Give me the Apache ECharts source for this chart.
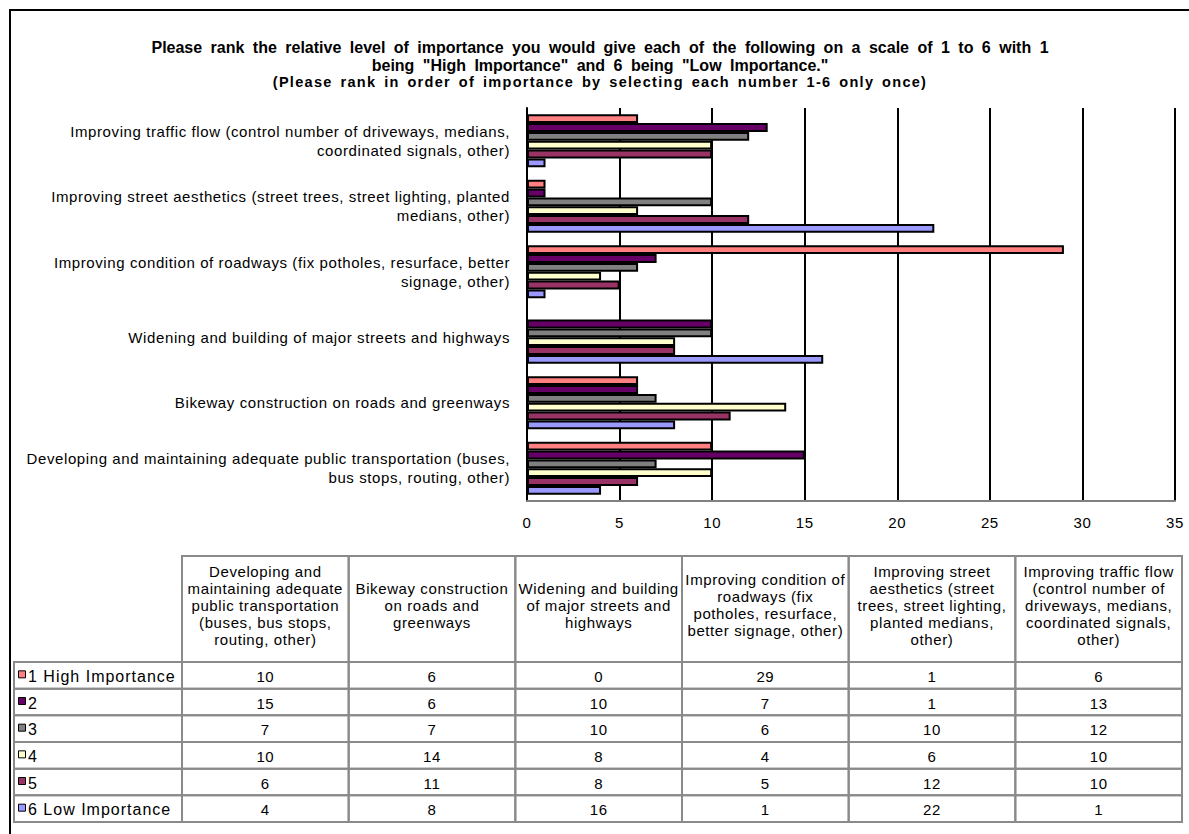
<!DOCTYPE html>
<html>
<head>
<meta charset="utf-8">
<script src="https://cdn.jsdelivr.net/npm/echarts@6/dist/echarts.min.js"></script>
<style>
  html, body { margin: 0; padding: 0; background: #fff; }
  #chart { width: 1189px; height: 834px; }
</style>
</head>
<body>
<div id="chart"></div>
<script>
// Survey categories (bottom-to-top on the chart, left-to-right in the table)
const categories = [
  'Developing and maintaining adequate public transportation (buses, bus stops, routing, other)',
  'Bikeway construction on roads and greenways',
  'Widening and building of major streets and highways',
  'Improving condition of roadways (fix potholes, resurface, better signage, other)',
  'Improving street aesthetics (street trees, street lighting, planted medians, other)',
  'Improving traffic flow (control number of driveways, medians, coordinated signals, other)'
];
// Wrapped versions of the category names
const axisLabels = [
  'Developing and maintaining adequate public transportation (buses,\nbus stops, routing, other)',
  'Bikeway construction on roads and greenways',
  'Widening and building of major streets and highways',
  'Improving condition of roadways (fix potholes, resurface, better\nsignage, other)',
  'Improving street aesthetics (street trees, street lighting, planted\nmedians, other)',
  'Improving traffic flow (control number of driveways, medians,\ncoordinated signals, other)'
];
const headerLabels = [
  'Developing and\nmaintaining adequate\npublic transportation\n(buses, bus stops,\nrouting, other)',
  'Bikeway construction\non roads and\ngreenways',
  'Widening and building\nof major streets and\nhighways',
  'Improving condition of\nroadways (fix\npotholes, resurface,\nbetter signage, other)',
  'Improving street\naesthetics (street\ntrees, street lighting,\nplanted medians,\nother)',
  'Improving traffic flow\n(control number of\ndriveways, medians,\ncoordinated signals,\nother)'
];

// Ranking series
const seriesNames = ['1 High Importance', '2', '3', '4', '5', '6 Low Importance'];
const rank1 = [10, 6, 0, 29, 1, 6];
const rank2 = [15, 6, 10, 7, 1, 13];
const rank3 = [7, 7, 10, 6, 10, 12];
const rank4 = [10, 14, 8, 4, 6, 10];
const rank5 = [6, 11, 8, 5, 12, 10];
const rank6 = [4, 8, 16, 1, 22, 1];
const seriesValues = [rank1, rank2, rank3, rank4, rank5, rank6];
const seriesColors = ['#FF8080', '#660066', '#808080', '#FFFFCC', '#993366', '#9999FF'];

const titleLines = [
  'Please rank the relative level of importance you would give each of the following on a scale of 1 to 6 with 1',
  'being "High Importance" and 6 being "Low Importance."'
];
const subTitle = '(Please rank in order of importance by selecting each number 1-6 only once)';

const FONT = 'Liberation Sans, Arial, sans-serif';

// ---- data table geometry ----
const tbl = {
  labelLeft: 14,
  left: 182,
  right: 1182,
  headTop: 556,
  headBottom: 662,
  rowH: 26.67
};

function buildTable() {
  const els = [];
  const colW = (tbl.right - tbl.left) / categories.length;
  const gridStroke = { stroke: '#8a8a8a', lineWidth: 2, fill: null };
  // header cells
  headerLabels.forEach((txt, c) => {
    const x = tbl.left + c * colW;
    els.push({
      type: 'rect', silent: true,
      shape: { x: x, y: tbl.headTop, width: colW, height: tbl.headBottom - tbl.headTop },
      style: gridStroke
    });
    els.push({
      type: 'text', silent: true,
      x: x + colW / 2, y: (tbl.headTop + tbl.headBottom) / 2 - 4,
      style: {
        text: txt, fill: '#000', font: '15px ' + FONT,
        align: 'center', verticalAlign: 'middle', lineHeight: 17
      }
    });
  });
  // data rows
  seriesNames.forEach((name, r) => {
    const y = tbl.headBottom + r * tbl.rowH;
    els.push({
      type: 'rect', silent: true,
      shape: { x: tbl.labelLeft, y: y, width: tbl.left - tbl.labelLeft, height: tbl.rowH },
      style: gridStroke
    });
    els.push({
      type: 'rect', silent: true,
      shape: { x: tbl.labelLeft + 4.5, y: y + tbl.rowH / 2 - 4.5, width: 7, height: 7 },
      style: { fill: seriesColors[r], stroke: '#000', lineWidth: 1 }
    });
    els.push({
      type: 'text', silent: true,
      x: tbl.labelLeft + 14, y: y + tbl.rowH / 2 + 1,
      style: { text: name, fill: '#000', font: '16px ' + FONT, align: 'left', verticalAlign: 'middle' }
    });
    seriesValues[r].forEach((v, c) => {
      const x = tbl.left + c * colW;
      els.push({
        type: 'rect', silent: true,
        shape: { x: x, y: y, width: colW, height: tbl.rowH },
        style: gridStroke
      });
      els.push({
        type: 'text', silent: true,
        x: x + colW / 2, y: y + tbl.rowH / 2 + 1,
        style: { text: String(v), fill: '#000', font: '15px ' + FONT, align: 'center', verticalAlign: 'middle' }
      });
    });
  });
  return els;
}

const graphics = [
  // chart area frame
  {
    type: 'rect', silent: true, z: -1,
    shape: { x: 10, y: 10, width: 1200, height: 860 },
    style: { fill: null, stroke: '#000', lineWidth: 2 }
  },
  {
    type: 'text', silent: true, x: 600, y: 47,
    style: { text: titleLines[0], fill: '#000', font: 'bold 16px ' + FONT, align: 'center', verticalAlign: 'middle' }
  },
  {
    type: 'text', silent: true, x: 600, y: 65,
    style: { text: titleLines[1], fill: '#000', font: 'bold 16px ' + FONT, align: 'center', verticalAlign: 'middle' }
  },
  {
    type: 'text', silent: true, x: 600, y: 82,
    style: { text: subTitle, fill: '#000', font: 'bold 14.5px ' + FONT, align: 'center', verticalAlign: 'middle' }
  }
].concat(buildTable());

const chart = echarts.init(document.getElementById('chart'), null, { renderer: 'svg' });

// Letter / word spacing per text style
function applyTextSpacing() {
  document.querySelectorAll('#chart svg text').forEach(t => {
    const cs = getComputedStyle(t);
    const size = parseFloat(cs.fontSize);
    const bold = parseInt(cs.fontWeight, 10) >= 600 || cs.fontWeight === 'bold';
    let ls = 0, ws = 0;
    if (bold && size >= 16) { ls = 0; ws = 4; }
    else if (bold) { ls = 1.3; ws = 2.5; }
    else if (size >= 16) { ls = 1.0; }
    else { ls = 0.6; }
    t.style.letterSpacing = ls + 'px';
    t.style.wordSpacing = ws + 'px';
  });
}
chart.on('finished', applyTextSpacing);

chart.setOption({
  animation: false,
  backgroundColor: '#fff',
  grid: { left: 527, right: 14, top: 108, bottom: 333, containLabel: false },
  xAxis: {
    type: 'value', min: 0, max: 35, interval: 5,
    axisLine: { show: true, lineStyle: { color: '#808080', width: 2 } },
    axisTick: { show: false },
    axisLabel: { color: '#000', fontSize: 15, fontFamily: FONT, margin: 14 },
    splitLine: { show: true, lineStyle: { color: '#000', width: 2 } }
  },
  yAxis: {
    type: 'category',
    data: categories,
    axisLine: { show: true, lineStyle: { color: '#000', width: 2 } },
    axisTick: { show: false },
    axisLabel: {
      color: '#000', fontSize: 15, fontFamily: FONT, margin: 17, align: 'right', lineHeight: 19,
      formatter: (val, idx) => axisLabels[idx]
    }
  },
  series: seriesNames.map((name, i) => ({
    name: name,
    type: 'bar',
    data: seriesValues[i],
    barGap: '0%',
    barCategoryGap: '19%',
    itemStyle: { color: seriesColors[i], borderColor: '#000', borderWidth: 2 }
  })),
  graphic: graphics
});
setTimeout(applyTextSpacing, 0);
</script>
</body>
</html>
